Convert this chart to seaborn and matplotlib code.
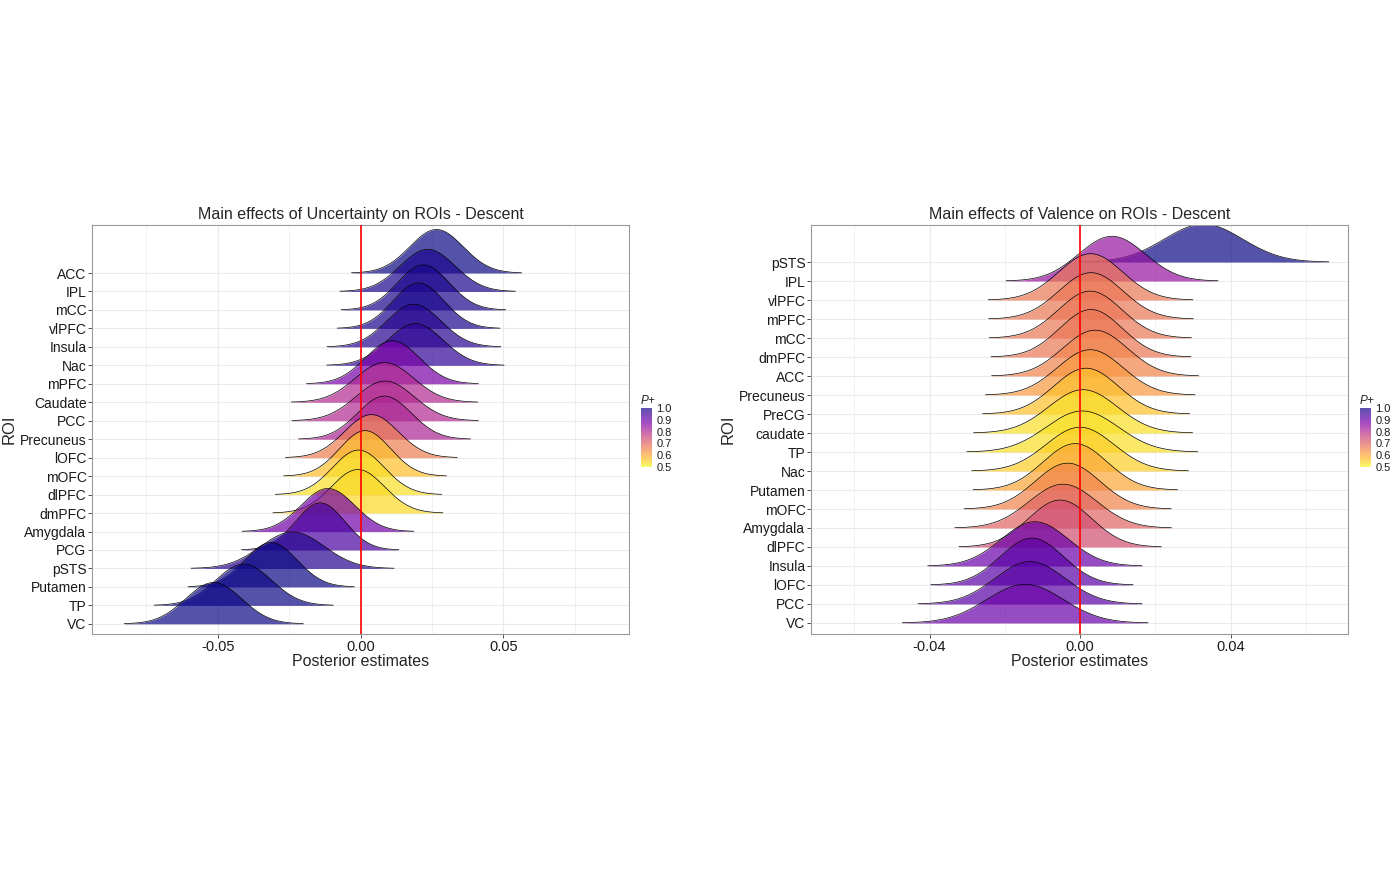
import numpy as np
import matplotlib
matplotlib.use("Agg")
import matplotlib.pyplot as plt
from matplotlib.colors import ListedColormap, Normalize
from matplotlib.cm import ScalarMappable
from matplotlib.ticker import FixedLocator
import seaborn as sns

# Left panel: Uncertainty (rows from top to bottom)
unc_rois = ["ACC", "IPL", "mCC", "vlPFC", "Insula", "Nac", "mPFC", "Caudate", "PCC", "Precuneus",
            "lOFC", "mOFC", "dlPFC", "dmPFC", "Amygdala", "PCG", "pSTS", "Putamen", "TP", "VC"]
unc_mean = [0.0266, 0.0235, 0.0220, 0.0203, 0.0187, 0.0192, 0.0112, 0.0084, 0.0086, 0.0084,
            0.0038, 0.0016, -0.0007, -0.0009, -0.0114, -0.0141, -0.0238, -0.0313, -0.0409, -0.0514]
unc_sd = [0.0093, 0.0096, 0.0090, 0.0089, 0.0095, 0.0097, 0.0094, 0.0102, 0.0102, 0.0094,
          0.0094, 0.0089, 0.0091, 0.0093, 0.0094, 0.0086, 0.0111, 0.0091, 0.0098, 0.0098]
unc_pplus = [1.00, 0.99, 0.99, 0.99, 0.98, 0.97, 0.88, 0.80, 0.80, 0.81,
             0.66, 0.57, 0.53, 0.54, 0.89, 0.94, 0.98, 1.00, 1.00, 1.00]

# Right panel: Valence (rows from top to bottom)
val_rois = ["pSTS", "IPL", "vlPFC", "mPFC", "mCC", "dmPFC", "ACC", "Precuneus", "PreCG", "caudate",
            "TP", "Nac", "Putamen", "mOFC", "Amygdala", "dlPFC", "Insula", "lOFC", "PCC", "VC"]
val_mean = [0.0328, 0.0085, 0.0028, 0.0029, 0.0027, 0.0029, 0.0040, 0.0027, 0.0016, 0.0008,
            0.0006, 0.0000, -0.0013, -0.0033, -0.0045, -0.0053, -0.0120, -0.0128, -0.0133, -0.0146]
val_sd = [0.0104, 0.0088, 0.0085, 0.0085, 0.0084, 0.0083, 0.0086, 0.0087, 0.0086, 0.0091,
          0.0096, 0.0090, 0.0085, 0.0086, 0.0090, 0.0084, 0.0089, 0.0084, 0.0093, 0.0102]
val_pplus = [1.00, 0.84, 0.67, 0.67, 0.67, 0.67, 0.65, 0.62, 0.57, 0.53,
             0.53, 0.55, 0.60, 0.65, 0.70, 0.74, 0.90, 0.92, 0.92, 0.90]

sns.set_theme(style="whitegrid")
plt.rcParams["font.family"] = ["Liberation Sans", "DejaVu Sans"]
plt.rcParams["axes.unicode_minus"] = False

cmap = sns.color_palette("plasma_r", as_cmap=True)
norm = Normalize(0.5, 1.0)
ALPHA = 0.7
GRID = "#ebebeb"


def draw_ridges(ax, rois, means, sds, pplus, height_rows):
    n = len(rois)
    peaks = 1.0 / (np.array(sds) * np.sqrt(2 * np.pi))
    k = height_rows / peaks.max()
    # top row first so lower ridges are drawn over upper ones
    for i, (m, s, p) in enumerate(zip(means, sds, pplus)):
        y0 = n - 1 - i
        xs = np.linspace(m - 3.2 * s, m + 3.2 * s, 300)
        dens = np.exp(-0.5 * ((xs - m) / s) ** 2) / (s * np.sqrt(2 * np.pi)) * k
        ax.fill_between(xs, y0, y0 + dens, color=cmap(norm(p)), alpha=ALPHA, lw=0, zorder=2 + i * 0.01)
        ax.plot(xs, y0 + dens, color="black", lw=0.5, zorder=2.005 + i * 0.01)
    ax.axvline(0, color="#ff0000", lw=1.2, zorder=10)
    ax.set_yticks(range(n))
    ax.set_yticklabels(rois[::-1])


def style_axes(ax, title, xticks, xlabels, minor, xlim, ylim):
    ax.set_xlim(xlim)
    ax.set_ylim(ylim)
    ax.set_xticks(xticks)
    ax.set_xticklabels(xlabels)
    ax.xaxis.set_minor_locator(FixedLocator(minor))
    ax.set_axisbelow(True)
    ax.grid(False)
    ax.grid(which="major", color=GRID, lw=0.8)
    ax.grid(which="minor", axis="x", color=GRID, lw=0.5)
    ax.tick_params(which="major", length=3, width=0.6, color="#333333", labelsize=10,
                   labelcolor="#1a1a1a", pad=1, bottom=True, left=True)
    ax.tick_params(axis="x", labelsize=10.5)
    ax.tick_params(which="minor", length=0)
    for sp in ax.spines.values():
        sp.set_color("#9a9a9a")
        sp.set_linewidth(0.8)
    ax.set_title(title, fontsize=11.5, pad=4)
    ax.set_xlabel("Posterior estimates", fontsize=11.5, labelpad=0)
    ax.set_ylabel("ROI", fontsize=12)
    ax.yaxis.set_label_coords(-0.14, 0.5)


def add_legend(fig, x):
    base = cmap(np.linspace(0, 1, 256))[:, :3]
    blended = ListedColormap(1 - ALPHA * (1 - base))
    cax = fig.add_axes([x / 1400, 1 - 467 / 875, 11 / 1400, 59 / 875])
    cb = fig.colorbar(ScalarMappable(norm=norm, cmap=blended), cax=cax,
                      ticks=[0.5, 0.6, 0.7, 0.8, 0.9, 1.0])
    cb.outline.set_visible(False)
    cb.ax.set_yticklabels(["0.5", "0.6", "0.7", "0.8", "0.9", "1.0"])
    cax.tick_params(length=0, labelsize=8, pad=3, labelcolor="#1a1a1a")
    cax.set_title("P+", fontsize=8.5, fontstyle="italic", loc="left", pad=3)


fig = plt.figure(figsize=(14, 8.75), dpi=100)

ax1 = fig.add_axes([92 / 1400, 1 - 634 / 875, 537 / 1400, 409 / 875])
draw_ridges(ax1, unc_rois, unc_mean, unc_sd, unc_pplus, 2.55)
style_axes(ax1, "Main effects of Uncertainty on ROIs - Descent",
           [-0.05, 0.0, 0.05], ["-0.05", "0.00", "0.05"],
           [-0.075, -0.025, 0.025, 0.075], (-0.094, 0.094), (-0.55, 21.6))

ax2 = fig.add_axes([811 / 1400, 1 - 634 / 875, 537 / 1400, 409 / 875])
draw_ridges(ax2, val_rois, val_mean, val_sd, val_pplus, 2.5)
style_axes(ax2, "Main effects of Valence on ROIs - Descent",
           [-0.04, 0.0, 0.04], ["-0.04", "0.00", "0.04"],
           [-0.06, -0.02, 0.02, 0.06], (-0.0715, 0.0712), (-0.58, 20.95))

add_legend(fig, 641)
add_legend(fig, 1360)

fig.savefig("out.png", dpi=100, facecolor="white")
